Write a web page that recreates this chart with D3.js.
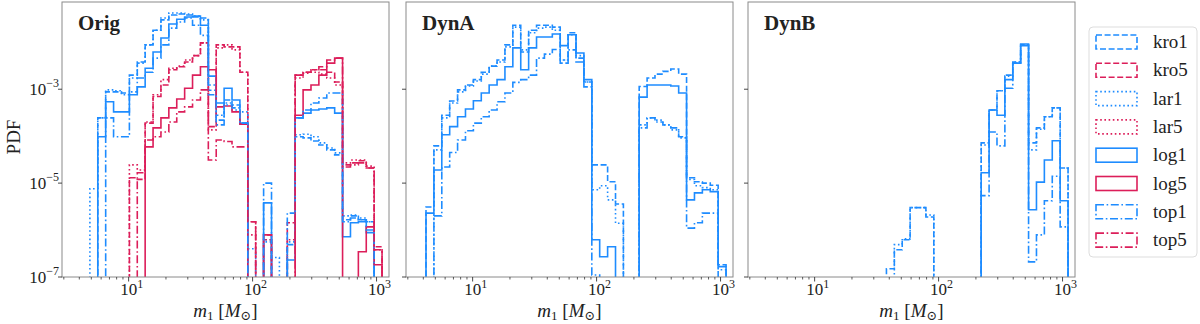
<!DOCTYPE html>
<html>
<head>
<meta charset="utf-8">
<script src="https://cdn.jsdelivr.net/npm/d3@7"></script>
<style>
  body { margin: 0; background: #fff; }
  text { font-family: "Liberation Serif", "DejaVu Serif", serif; fill: #222; }
</style>
</head>
<body>
<script>
// histogram bin edges in M_sun (log spaced)
const binEdges = [4.205, 4.869, 5.638, 6.528, 7.559, 8.753, 10.14, 11.74, 13.59, 15.74,
  18.22, 21.10, 24.44, 28.30, 32.77, 37.95, 43.94, 50.88, 58.92, 68.23,
  79.00, 91.50, 105.9, 122.7, 142.1, 164.5, 190.5, 220.6, 255.5, 295.8,
  342.5, 396.7, 459.3, 531.9, 615.9, 713.2, 825.9, 956.4, 1107.5];

const panelNames = ['Orig', 'DynA', 'DynB'];
const seriesNames = ['kro1', 'kro5', 'lar1', 'lar5', 'log1', 'log5', 'top1', 'top5'];
const xTickLabels = ['1', '2', '3'];
const yTickLabels = ['-3', '-5', '-7'];

// ---- Orig panel ----
const origKro1 = [0, 0, 2.45e-4, 8.8e-4, 8.8e-4, 8.3e-4, 2.0e-3, 3.8e-3, 8.8e-3, 1.8e-2,
  3.0e-2, 3.8e-2, 4.0e-2, 3.8e-2, 3.45e-2, 3.3e-2, 9.5e-4, 2.2e-4, 5.9e-4, 4.6e-4,
  1.8e-4, 0, 0, 6.2e-7, 0, 0, 4.9e-7, 9.7e-5, 9.2e-5, 7.9e-5,
  6.5e-5, 5.1e-5, 4.0e-5, 1.66e-6, 2.0e-6, 1.66e-6, 1.5e-6, 0];
const origLar1 = [0, 7.6e-6, 2.45e-4, 9.7e-4, 9.3e-4, 7.6e-4, 1.74e-3, 3.6e-3, 8.8e-3, 1.8e-2,
  3.3e-2, 4.2e-2, 4.2e-2, 4.0e-2, 3.6e-2, 3.0e-2, 1.23e-3, 2.8e-4, 5.1e-4, 3.6e-4,
  3.3e-4, 4.0e-7, 0, 5.6e-7, 2.6e-7, 0, 5.6e-7, 1.07e-4, 1.1e-4, 9.7e-5,
  7.2e-5, 5.6e-5, 4.4e-5, 2.0e-6, 2.1e-6, 1.8e-6, 1.5e-6, 0];
const origLog1 = [0, 0, 9.7e-5, 5.4e-4, 3.3e-4, 3.3e-4, 7.6e-4, 1.12e-3, 2.8e-3, 6.2e-3,
  1.23e-2, 2.45e-2, 3.1e-2, 3.45e-2, 3.6e-2, 2.3e-2, 1.9e-3, 5.1e-4, 1.05e-3, 5.9e-4,
  1.9e-4, 0, 0, 3.8e-6, 0, 0, 2.3e-7, 2.45e-4, 3.1e-4, 3.6e-4,
  3.8e-4, 4.0e-4, 3.1e-4, 7.2e-7, 1.43e-6, 1.5e-6, 8.8e-7, 0];
const origTop1 = [0, 0, 0, 2.45e-4, 9.7e-5, 9.7e-5, 8.8e-4, 1.74e-3, 2.3e-3, 4.6e-3,
  8.8e-3, 2.0e-2, 2.7e-2, 3.3e-2, 2.3e-2, 1.4e-2, 7.6e-4, 1.74e-4, 4.6e-4, 4.0e-4,
  1.9e-4, 0, 0, 1.0e-5, 0, 0, 2.3e-6, 2.45e-4, 3.6e-4, 5.1e-4,
  6.5e-4, 8.3e-4, 8.3e-4, 1.5e-6, 1.8e-6, 1.66e-6, 1.0e-6, 0];
const origKro5 = [0, 0, 0, 0, 0, 0, 1.3e-5, 1.2e-5, 1.9e-4, 7.0e-4,
  1.23e-3, 2.6e-3, 3.0e-3, 3.8e-3, 5.2e-3, 9.7e-3, 1.6e-4, 8.8e-3, 8.0e-3, 8.0e-3,
  2.3e-3, 1.5e-6, 0, 7.9e-7, 0, 0, 1.43e-6, 2.0e-3, 2.3e-3, 2.6e-3,
  2.6e-3, 2.3e-3, 1.43e-3, 2.45e-5, 2.7e-5, 3.0e-5, 2.1e-5, 4.4e-7];
const origLar5 = [0, 0, 0, 0, 0, 0, 2.45e-5, 1.9e-5, 2.0e-4, 7.6e-4,
  1.6e-3, 2.8e-3, 3.1e-3, 4.2e-3, 5.2e-3, 9.7e-3, 1.36e-4, 7.6e-3, 8.8e-3, 6.9e-3,
  2.3e-3, 7.9e-7, 0, 6.2e-7, 0, 0, 6.2e-7, 1.74e-3, 2.2e-3, 2.3e-3,
  2.1e-3, 1.74e-3, 1.23e-3, 2.7e-5, 3.1e-5, 3.1e-5, 2.3e-5, 3.8e-7];
const origLog5 = [0, 0, 0, 0, 0, 0, 0, 0, 5.9e-5, 1.5e-4,
  2.45e-4, 4.0e-4, 6.2e-4, 1.05e-3, 2.0e-3, 3.0e-3, 2.6e-3, 4.2e-4, 4.4e-4, 3.3e-4,
  1.8e-4, 0, 0, 7.9e-7, 0, 0, 0, 2.8e-4, 9.7e-4, 1.23e-3,
  2.0e-3, 3.6e-3, 4.6e-3, 0, 0, 3.45e-7, 1.17e-6, 1.83e-7];
const origTop5 = [0, 0, 0, 0, 0, 0, 0, 1.66e-5, 8.3e-5, 9.7e-5,
  1.23e-4, 2.0e-4, 3.3e-4, 4.2e-4, 5.9e-4, 9.7e-4, 3.1e-5, 8.3e-5, 7.7e-5, 5.9e-5,
  5.9e-5, 1.5e-6, 0, 0, 0, 0, 0, 2.0e-3, 2.3e-3, 2.6e-3,
  3.0e-3, 4.2e-3, 4.6e-3, 2.2e-5, 2.45e-5, 2.7e-5, 2.1e-5, 3.8e-7];

// ---- DynA panel (only the blue runs are non-empty) ----
const dynAKro1 = [3.1e-6, 6.2e-5, 2.8e-4, 5.6e-4, 9.7e-4, 1.23e-3, 1.6e-3, 2.3e-3, 3.1e-3, 4.2e-3,
  8.8e-3, 2.3e-2, 6.2e-3, 1.8e-2, 2.3e-2, 2.3e-2, 2.1e-2, 3.6e-3, 1.6e-2, 4.6e-3,
  1.43e-3, 2.45e-5, 2.45e-5, 1.07e-5, 3.6e-6, 0, 0, 1.14e-3, 1.74e-3, 2.1e-3,
  2.4e-3, 2.7e-3, 2.1e-3, 1.3e-5, 1.07e-5, 1.0e-5, 9.0e-6, 1.83e-7];
const dynALar1 = [0, 5.1e-5, 2.45e-4, 5.1e-4, 8.8e-4, 1.17e-3, 1.5e-3, 2.1e-3, 3.1e-3, 3.8e-3,
  8.0e-3, 2.1e-2, 6.9e-3, 1.6e-2, 2.0e-2, 2.1e-2, 1.8e-2, 4.2e-3, 1.45e-2, 5.2e-3,
  1.43e-3, 7.2e-6, 8.8e-6, 4.4e-6, 1.4e-6, 0, 0, 1.74e-4, 2.45e-4, 2.2e-4,
  1.74e-4, 1.36e-4, 9.2e-5, 1.2e-5, 8.8e-6, 8.0e-6, 7.2e-6, 1.43e-7];
const dynALog1 = [2.3e-6, 1.9e-5, 1.07e-4, 1.6e-4, 2.6e-4, 3.8e-4, 5.7e-4, 8.3e-4, 1.23e-3, 1.6e-3,
  3.0e-3, 7.6e-3, 2.6e-3, 7.6e-3, 1.3e-2, 1.3e-2, 1.5e-2, 8.5e-3, 1.45e-2, 5.9e-3,
  1.6e-3, 6.2e-7, 2.7e-7, 4.4e-7, 0, 0, 0, 6.8e-4, 1.23e-3, 1.23e-3,
  1.23e-3, 1.17e-3, 8.3e-4, 4.4e-6, 6.2e-6, 7.2e-6, 6.6e-6, 1.66e-7];
const dynATop1 = [0, 2.0e-6, 2.2e-5, 4.5e-5, 8.3e-5, 1.3e-4, 1.9e-4, 2.6e-4, 3.6e-4, 5.4e-4,
  8.3e-4, 1.4e-3, 1.6e-3, 2.0e-3, 4.6e-3, 5.6e-3, 7.0e-3, 4.2e-3, 6.9e-3, 3.8e-3,
  1.12e-3, 1.1e-7, 0, 0, 0, 0, 0, 1.5e-4, 2.45e-4, 2.0e-4,
  1.74e-4, 1.5e-4, 9.7e-5, 1.1e-6, 1.43e-6, 2.3e-6, 2.3e-6, 0];

// ---- DynB panel ----
const dynBKro1 = [0, 0, 0, 0, 0, 0, 0, 0, 0, 0,
  0, 0, 0, 0, 0, 1.5e-7, 3.8e-7, 6.2e-7, 3.0e-6, 3.0e-6,
  1.9e-6, 0, 0, 0, 0, 0, 0, 7.2e-5, 3.6e-4, 9.3e-4,
  2.0e-3, 3.8e-3, 8.8e-3, 7.2e-5, 1.5e-4, 2.6e-4, 4.0e-4, 2.1e-5];
const dynBLar1 = [0, 0, 0, 0, 0, 0, 0, 0, 0, 0,
  0, 0, 0, 0, 0, 0, 4.9e-7, 6.5e-7, 3.0e-6, 3.0e-6,
  2.1e-6, 0, 0, 0, 0, 0, 0, 6.5e-5, 3.6e-4, 9.3e-4,
  1.9e-3, 3.8e-3, 8.8e-3, 5.1e-5, 1.4e-4, 2.6e-4, 4.0e-4, 2.1e-5];
const dynBLog1 = [0, 0, 0, 0, 0, 0, 0, 0, 0, 0,
  0, 0, 0, 0, 0, 0, 0, 0, 0, 0,
  0, 0, 0, 0, 0, 0, 0, 1.66e-5, 3.6e-4, 2.8e-4,
  1.6e-3, 3.6e-3, 9.2e-3, 2.7e-6, 1.05e-5, 3.1e-5, 8.0e-5, 4.2e-6];
const dynBTop1 = [0, 0, 0, 0, 0, 0, 0, 0, 0, 0,
  0, 0, 0, 0, 0, 0, 0, 0, 0, 0,
  0, 0, 0, 0, 0, 0, 0, 5.4e-6, 1.23e-4, 6.2e-5,
  1.05e-3, 3.6e-3, 8.5e-3, 2.1e-7, 7.9e-7, 4.2e-6, 1.4e-5, 1.17e-6];

const panelData = [
  { kro1: origKro1, kro5: origKro5, lar1: origLar1, lar5: origLar5,
    log1: origLog1, log5: origLog5, top1: origTop1, top5: origTop5 },
  { kro1: dynAKro1, lar1: dynALar1, log1: dynALog1, top1: dynATop1 },
  { kro1: dynBKro1, lar1: dynBLar1, log1: dynBLog1, top1: dynBTop1 }
];

// styles
const blue = '#1e8cff';
const red = '#dc1e5a';
const dashFor = { kro: '6,2.6', lar: '1.6,2.6', log: null, top: '8,2.6,1.6,2.6' };
function colorFor(name) { return name.endsWith('1') ? blue : red; }
function dashOf(name) { return dashFor[name.slice(0, 3)]; }

// layout
const width = 1200, height = 324;
const panelLeft = [62, 406, 748];
const panelWidth = 327;
const plotTop = 2, plotBottom = 277;

const svg = d3.select('body').append('svg')
  .attr('width', width)
  .attr('height', height);

const y = d3.scaleLog().domain([1e-7, Math.pow(10, -1.142)]).range([plotBottom, plotTop]);
const floorValue = 1e-9;

panelNames.forEach((pname, p) => {
  const x = d3.scaleLog().domain([2.9, 1260]).range([panelLeft[p], panelLeft[p] + panelWidth]);
  const g = svg.append('g');

  g.append('clipPath').attr('id', 'clip' + p)
    .append('rect')
    .attr('x', panelLeft[p]).attr('y', plotTop)
    .attr('width', panelWidth).attr('height', plotBottom - plotTop);

  // step outlines
  const line = d3.line().x(d => x(d[0])).y(d => y(Math.max(d[1], floorValue)));
  seriesNames.forEach(name => {
    const vals = panelData[p][name];
    if (!vals) return;
    const pts = [[binEdges[0], 0]];
    vals.forEach((v, i) => {
      pts.push([binEdges[i], v]);
      pts.push([binEdges[i + 1], v]);
    });
    pts.push([binEdges[binEdges.length - 1], 0]);
    g.append('path')
      .attr('clip-path', 'url(#clip' + p + ')')
      .attr('d', line(pts))
      .attr('fill', 'none')
      .attr('stroke', colorFor(name))
      .attr('stroke-width', 1.6)
      .attr('stroke-dasharray', dashOf(name));
  });

  // frame
  g.append('rect')
    .attr('x', panelLeft[p]).attr('y', plotTop)
    .attr('width', panelWidth).attr('height', plotBottom - plotTop)
    .attr('fill', 'none').attr('stroke', '#8a8a8a').attr('stroke-width', 1);

  // x ticks
  const minor = [];
  [1, 10, 100].forEach(dec => d3.range(2, 10).forEach(m => minor.push(m * dec)));
  minor.filter(t => t >= 2.9 && t <= 1260).forEach(t => {
    g.append('line').attr('x1', x(t)).attr('x2', x(t))
      .attr('y1', plotBottom).attr('y2', plotBottom + 2.5)
      .attr('stroke', '#333').attr('stroke-width', 0.8);
  });
  [10, 100, 1000].forEach((t, i) => {
    g.append('line').attr('x1', x(t)).attr('x2', x(t))
      .attr('y1', plotBottom).attr('y2', plotBottom + 4.5)
      .attr('stroke', '#333').attr('stroke-width', 0.9);
    const lbl = g.append('text')
      .attr('x', x(t) + 3).attr('y', plotBottom + 18)
      .attr('text-anchor', 'middle')
      .attr('font-size', 17);
    lbl.append('tspan').text('10');
    lbl.append('tspan').attr('dy', -7).attr('font-size', 12).text(xTickLabels[i]);
  });

  // y ticks
  [1e-3, 1e-5, 1e-7].forEach((t, i) => {
    g.append('line').attr('x1', panelLeft[p] - 4).attr('x2', panelLeft[p])
      .attr('y1', y(t)).attr('y2', y(t))
      .attr('stroke', '#333').attr('stroke-width', 0.9);
    if (p === 0) {
      const lbl = g.append('text')
        .attr('x', panelLeft[p] - 3).attr('y', y(t) + 6)
        .attr('text-anchor', 'end')
        .attr('font-size', 17);
      lbl.append('tspan').text('10');
      lbl.append('tspan').attr('dy', -8).attr('font-size', 12).text('\u2212' + yTickLabels[i].slice(1));
    }
  });

  // panel title
  g.append('text')
    .attr('x', panelLeft[p] + 16).attr('y', 30)
    .attr('font-size', 21).attr('font-weight', 'bold')
    .text(pname);

  // x label
  const xl = g.append('text')
    .attr('x', panelLeft[p] + panelWidth / 2).attr('y', 317)
    .attr('text-anchor', 'middle')
    .attr('font-size', 19);
  xl.append('tspan').attr('font-style', 'italic').text('m');
  xl.append('tspan').attr('dy', 3).attr('font-size', 13).text('1');
  xl.append('tspan').attr('dy', -3).text(' [');
  xl.append('tspan').attr('font-style', 'italic').text('M');
  xl.append('tspan').attr('dy', 3).attr('font-size', 13).text('\u2299');
  xl.append('tspan').attr('dy', -3).text(']');
});

// y label
svg.append('text')
  .attr('transform', 'translate(20,137) rotate(-90)')
  .attr('text-anchor', 'middle')
  .attr('font-size', 19)
  .text('PDF');

// legend
const legend = svg.append('g');
legend.append('rect')
  .attr('x', 1089).attr('y', 27)
  .attr('width', 108).attr('height', 230)
  .attr('rx', 4)
  .attr('fill', '#fff').attr('stroke', '#ddd');
seriesNames.forEach((name, i) => {
  const cy = 42 + i * 28.3;
  legend.append('rect')
    .attr('x', 1096).attr('y', cy - 7)
    .attr('width', 41).attr('height', 14)
    .attr('fill', 'none')
    .attr('stroke', colorFor(name))
    .attr('stroke-width', 1.6)
    .attr('stroke-dasharray', dashOf(name));
  legend.append('text')
    .attr('x', 1153).attr('y', cy + 6)
    .attr('font-size', 19)
    .text(name);
});
</script>
</body>
</html>
